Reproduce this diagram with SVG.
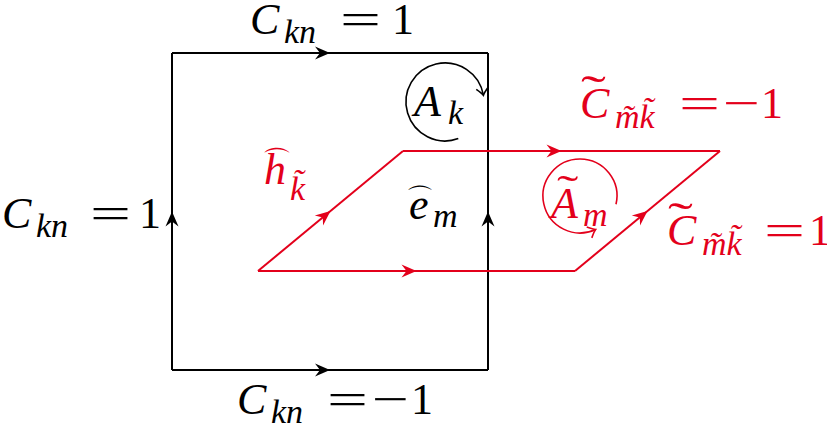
<svg xmlns="http://www.w3.org/2000/svg" width="827" height="424" viewBox="0 0 827 424">
<style>
text{font-family:"Liberation Serif","DejaVu Serif",serif}
.t{font-size:44px}
.i{font-style:italic}
.s{font-size:34px;font-style:italic}
.k{fill:#000}
.r{fill:#e3001b}
.e{fill:none;stroke-width:2}
.arc{font-family:"DejaVu Sans",sans-serif}
</style>
<defs>
<marker id="ak" markerUnits="userSpaceOnUse" viewBox="-16 -8 17 16" refX="0" refY="0" markerWidth="17" markerHeight="16" orient="auto">
<path d="M0,0 L-15,-6.5 L-10,0 L-15,6.5 Z" fill="#000"/>
</marker>
<marker id="ar" markerUnits="userSpaceOnUse" viewBox="-16 -8 17 16" refX="0" refY="0" markerWidth="17" markerHeight="16" orient="auto">
<path d="M0,0 L-15,-6.5 L-10,0 L-15,6.5 Z" fill="#e3001b"/>
</marker>
<marker id="vk" markerUnits="userSpaceOnUse" viewBox="-10 -8 12 16" refX="0" refY="0" markerWidth="12" markerHeight="16" orient="auto">
<path d="M-7,-6 Q-2,-1 0,0 Q-2,1 -7,6" fill="none" stroke="#000" stroke-width="1.6"/>
</marker>
<marker id="vr" markerUnits="userSpaceOnUse" viewBox="-10 -8 12 16" refX="0" refY="0" markerWidth="12" markerHeight="16" orient="auto">
<path d="M-7,-6 Q-2,-1 0,0 Q-2,1 -7,6" fill="none" stroke="#e3001b" stroke-width="1.6"/>
</marker>
</defs>
<g id="connectors">
<g stroke="#000" class="e" marker-mid="url(#ak)">
<path d="M172,53 L330,53 L488,53"/>
<path d="M172,370 L172,211.5 L172,53"/>
<path d="M488,370 L488,211.5 L488,53"/>
<path d="M172,370 L330,370 L488,370"/>
</g>
<g stroke="#e3001b" class="e" marker-mid="url(#ar)">
<path d="M403,151 L561.5,151 L720,151"/>
<path d="M258,271 L416.5,271 L575,271"/>
<path d="M258,271 L330.5,211 L403,151"/>
<path d="M575,271 L647.5,211 L720,151"/>
</g>
</g>
<g id="loop-Ak">
<path d="M458.3,138.6 A39,39 0 1 1 483.4,95.2" fill="none" stroke="#000" stroke-width="1.6" marker-end="url(#vk)"/>
<text class="t k"><tspan class="i" x="414" y="116">A</tspan><tspan class="s" x="448" y="124">k</tspan></text>
</g>
<g id="loop-Am">
<path d="M616,204.3 A37,37 0 1 0 595.6,229.5" fill="none" stroke="#e3001b" stroke-width="1.6" marker-end="url(#vr)"/>
<text class="t r i" x="551" y="218">A</text>
<text class="r" font-size="40" transform="translate(557,203) scale(1.6,1)">˜</text>
<text class="r s" x="583" y="226">m</text>
</g>
<g id="label-top">
<text class="t k"><tspan class="i" x="250" y="34">C</tspan><tspan class="s" x="284" y="43">kn</tspan><tspan x="392" y="34">1</tspan></text>
<text class="t k" x="340" y="34" textLength="41" lengthAdjust="spacingAndGlyphs">=</text>
</g>
<g id="label-left">
<text class="t k"><tspan class="i" x="2" y="228">C</tspan><tspan class="s" x="36" y="237">kn</tspan><tspan x="139" y="228">1</tspan></text>
<text class="t k" x="90" y="228" textLength="41" lengthAdjust="spacingAndGlyphs">=</text>
</g>
<g id="label-bottom">
<text class="t k"><tspan class="i" x="237" y="414">C</tspan><tspan class="s" x="271" y="423">kn</tspan><tspan x="411" y="414">1</tspan></text>
<text class="t k" x="327" y="414" textLength="41" lengthAdjust="spacingAndGlyphs">=</text>
<text class="t k" x="372" y="414" textLength="37" lengthAdjust="spacingAndGlyphs">−</text>
</g>
<g id="label-red-top">
<text class="t r"><tspan class="i" x="580" y="118">C</tspan><tspan class="s" x="615" y="128">m̃k̃</tspan><tspan x="761" y="118">1</tspan></text>
<text class="t r" x="679" y="118" textLength="41" lengthAdjust="spacingAndGlyphs">=</text>
<text class="t r" x="723" y="118" textLength="37" lengthAdjust="spacingAndGlyphs">−</text>
<text class="r" font-size="44" transform="translate(581,106) scale(1.7,1)">˜</text>
</g>
<g id="label-red-right">
<text class="t r"><tspan class="i" x="667" y="245">C</tspan><tspan class="s" x="702" y="255">m̃k̃</tspan><tspan x="809" y="245">1</tspan></text>
<text class="t r" x="764" y="245" textLength="41" lengthAdjust="spacingAndGlyphs">=</text>
<text class="r" font-size="44" transform="translate(668,233) scale(1.7,1)">˜</text>
</g>
<g id="label-h">
<text class="t r"><tspan class="i" x="264" y="184">h</tspan><tspan class="s" x="290" y="200">k̃</tspan></text>
<text class="r arc" x="262" y="172" font-size="30">⌒</text>
</g>
<g id="label-e">
<text class="t k"><tspan class="i" x="409" y="219">e</tspan><tspan class="s" x="433" y="227">m</tspan></text>
<text class="k arc" x="406" y="208" font-size="28">⌒</text>
</g>
</svg>
